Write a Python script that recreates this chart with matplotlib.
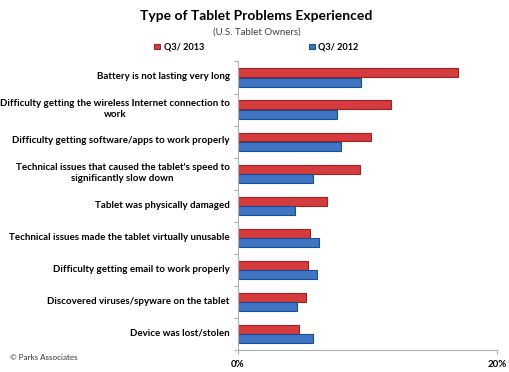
import numpy as np
import matplotlib
matplotlib.use("Agg")
import matplotlib.pyplot as plt

plt.rcParams['font.family'] = ['Lato', 'DejaVu Sans']

categories = [
    "Battery is not lasting very long",
    "Difficulty getting the wireless Internet connection to\nwork",
    "Difficulty getting software/apps to work properly",
    "Technical issues that caused the tablet's speed to\nsignificantly slow down",
    "Tablet was physically damaged",
    "Technical issues made the tablet virtually unusable",
    "Difficulty getting email to work properly",
    "Discovered viruses/spyware on the tablet",
    "Device was lost/stolen",
]
q3_2013 = [17.0, 11.8, 10.3, 9.4, 6.9, 5.6, 5.4, 5.3, 4.7]
q3_2012 = [9.5, 7.7, 8.0, 5.8, 4.4, 6.3, 6.1, 4.6, 5.8]
x_ticks = [0, 20]
x_ticklabels = ["0%", "20%"]

fig = plt.figure(figsize=(5.1, 3.72), dpi=100)
ax = fig.add_axes([0.4657, 0.0591, 0.509, 0.7756])

y = np.arange(len(categories))
h = 0.28
ax.barh(y - 0.145, q3_2013, height=h, color="#D63B3D", edgecolor="#9A2326", linewidth=0.8, label="Q3/ 2013")
ax.barh(y + 0.145, q3_2012, height=h, color="#3F76C4", edgecolor="#1E4C88", linewidth=0.8, label="Q3/ 2012")

ax.set_ylim(len(categories) - 0.5, -0.5)
ax.set_xlim(0, 20)
ax.set_yticks(np.arange(len(categories) + 1) - 0.5)
ax.set_yticklabels([])
ax.tick_params(axis='y', length=3, color="#B0B0B0", direction='out')
ax.set_xticks(x_ticks)
ax.set_xticklabels(x_ticklabels, fontweight='bold', fontsize=7)
ax.tick_params(axis='x', length=3, color="#B0B0B0", pad=4)

for s in ['top', 'right']:
    ax.spines[s].set_visible(False)
ax.spines['left'].set_color("#B0B0B0")
ax.spines['bottom'].set_color("#B0B0B0")

for i, lab in enumerate(categories):
    ax.text(-0.6, i - 0.02, lab, ha='right', va='center', fontsize=7, fontweight='bold',
            multialignment='center', linespacing=1.4, transform=ax.transData, clip_on=False)

fig.text(0.503, 0.957, "Type of Tablet Problems Experienced", ha='center', va='center',
         fontsize=10, fontweight='bold')
fig.text(0.503, 0.913, "(U.S. Tablet Owners)", ha='center', va='center', fontsize=7, color="#404040")

fig.legend(loc='center', bbox_to_anchor=(0.503, 0.873), ncol=2, frameon=False,
           prop={'weight': 'bold', 'size': 6.6}, handlelength=0.6, handleheight=0.6,
           columnspacing=11.5, handletextpad=0.4)

fig.text(0.02, 0.038, "\u00a9 Parks Associates", ha='left', va='center', fontsize=5.8, color="#333333")

fig.savefig("out.png", dpi=100)
